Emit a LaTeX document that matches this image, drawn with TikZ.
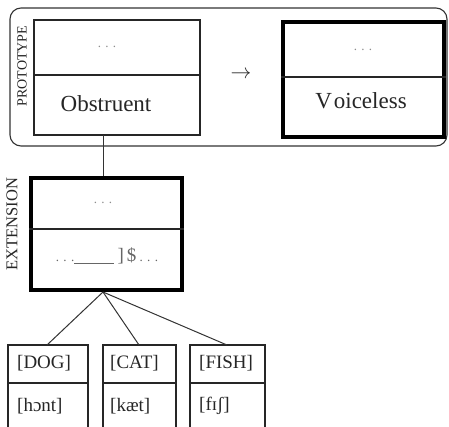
\documentclass[tikz,border=0pt]{standalone}
\usepackage{fontspec}
\setmainfont{Liberation Serif}
\begin{document}
\begin{tikzpicture}[x=1pt,y=-1pt,
  thinbox/.style={draw=black!85, line width=1.1pt, rectangle, inner sep=0pt},
  thickbox/.style={draw=black, line width=3.2pt, rectangle, inner sep=0pt},
  divider/.style={draw=black!85, line width=1.1pt},
  link/.style={draw=black!80, line width=1pt},
  dots/.style={text=black!45, font=\fontsize{13}{13}\selectfont},
  label/.style={font=\fontsize{23}{23}\selectfont, text=black!85},
  word/.style={font=\fontsize{19}{19}\selectfont, text=black!85, anchor=west, inner sep=0pt},
  side/.style={rotate=90, text=black!85, inner sep=0pt}]
\clip (0,0) rectangle (449,426);
\fill[white] (0,0) rectangle (449,426);

% prototype frame
\node[draw=black!80, line width=1.1pt, rounded corners=11pt, minimum width=437pt, minimum height=138pt, inner sep=0pt] (proto) at (228.5,77) {};
\node[side, font=\fontsize{14}{14}\selectfont] (protolbl) at (22,66) {PROTOTYPE};

% source and target of the schema
\node[thinbox, minimum width=166pt, minimum height=115pt] (obs) at (117,77.5) {};
\draw[divider] (obs.west |- 0,75) -- (obs.east |- 0,75);
\node[dots] (obsdots) at (107,47) {. . .};
\node[label] (obslbl) at (106,104) {Obstruent};

\node[thickbox, minimum width=161pt, minimum height=115pt] (voi) at (363.5,79.5) {};
\draw[divider] (voi.west |- 0,77) -- (voi.east |- 0,77);
\node[dots] (voidots) at (363,50) {. . .};
\node[label] (voilbl) at (361,101) {V\kern2pt oiceless};

\node[font=\fontsize{22}{22}\selectfont, text=black!85] (arr) at (241,75) {$\rightarrow$};

% extension
\coordinate (obsfoot) at (103,135);
\coordinate (exttop) at (103,178);
\draw[link] (obsfoot) -- (exttop);

\node[thickbox, minimum width=151pt, minimum height=112pt] (ext) at (106.5,234) {};
\draw[divider] (ext.west |- 0,229) -- (ext.east |- 0,229);
\node[side, font=\fontsize{16.5}{16.5}\selectfont] (extlbl) at (12,224) {EXTENSION};
\node[dots] (extdots) at (103,203) {. . .};
\node[text=black!60, font=\fontsize{19}{19}\selectfont] (exttxt) at (107,256)
  {{\fontsize{13}{13}\selectfont . . .}\underline{\hspace{40pt}}\,]\,\$\,{\fontsize{13}{13}\selectfont . . .}};

% instances
\coordinate (extfoot) at (103,292);
\node[thinbox, minimum width=80pt, minimum height=100pt] (dog) at (48,395) {};
\node[thinbox, minimum width=73pt, minimum height=100pt] (cat) at (139.5,395) {};
\node[thinbox, minimum width=75pt, minimum height=100pt] (fish) at (227.5,395) {};
\foreach \b in {dog,cat,fish} \draw[divider] (\b.west |- 0,383) -- (\b.east |- 0,383);

\draw[link] (extfoot) -- (47,345);
\draw[link] (extfoot) -- (139,345);
\draw[link] (extfoot) -- (227,345);

\node[word] (dogw) at (17,363) {[DOG]};
\node[word] (dogp) at (17,406) {[hɔnt]};
\node[word] (catw) at (110,363) {[CAT]};
\node[word] (catp) at (110,406) {[kæt]};
\node[word] (fishw) at (199,363) {[FISH]};
\node[word] (fishp) at (199,406) {[fɪʃ]};
\end{tikzpicture}
\end{document}
